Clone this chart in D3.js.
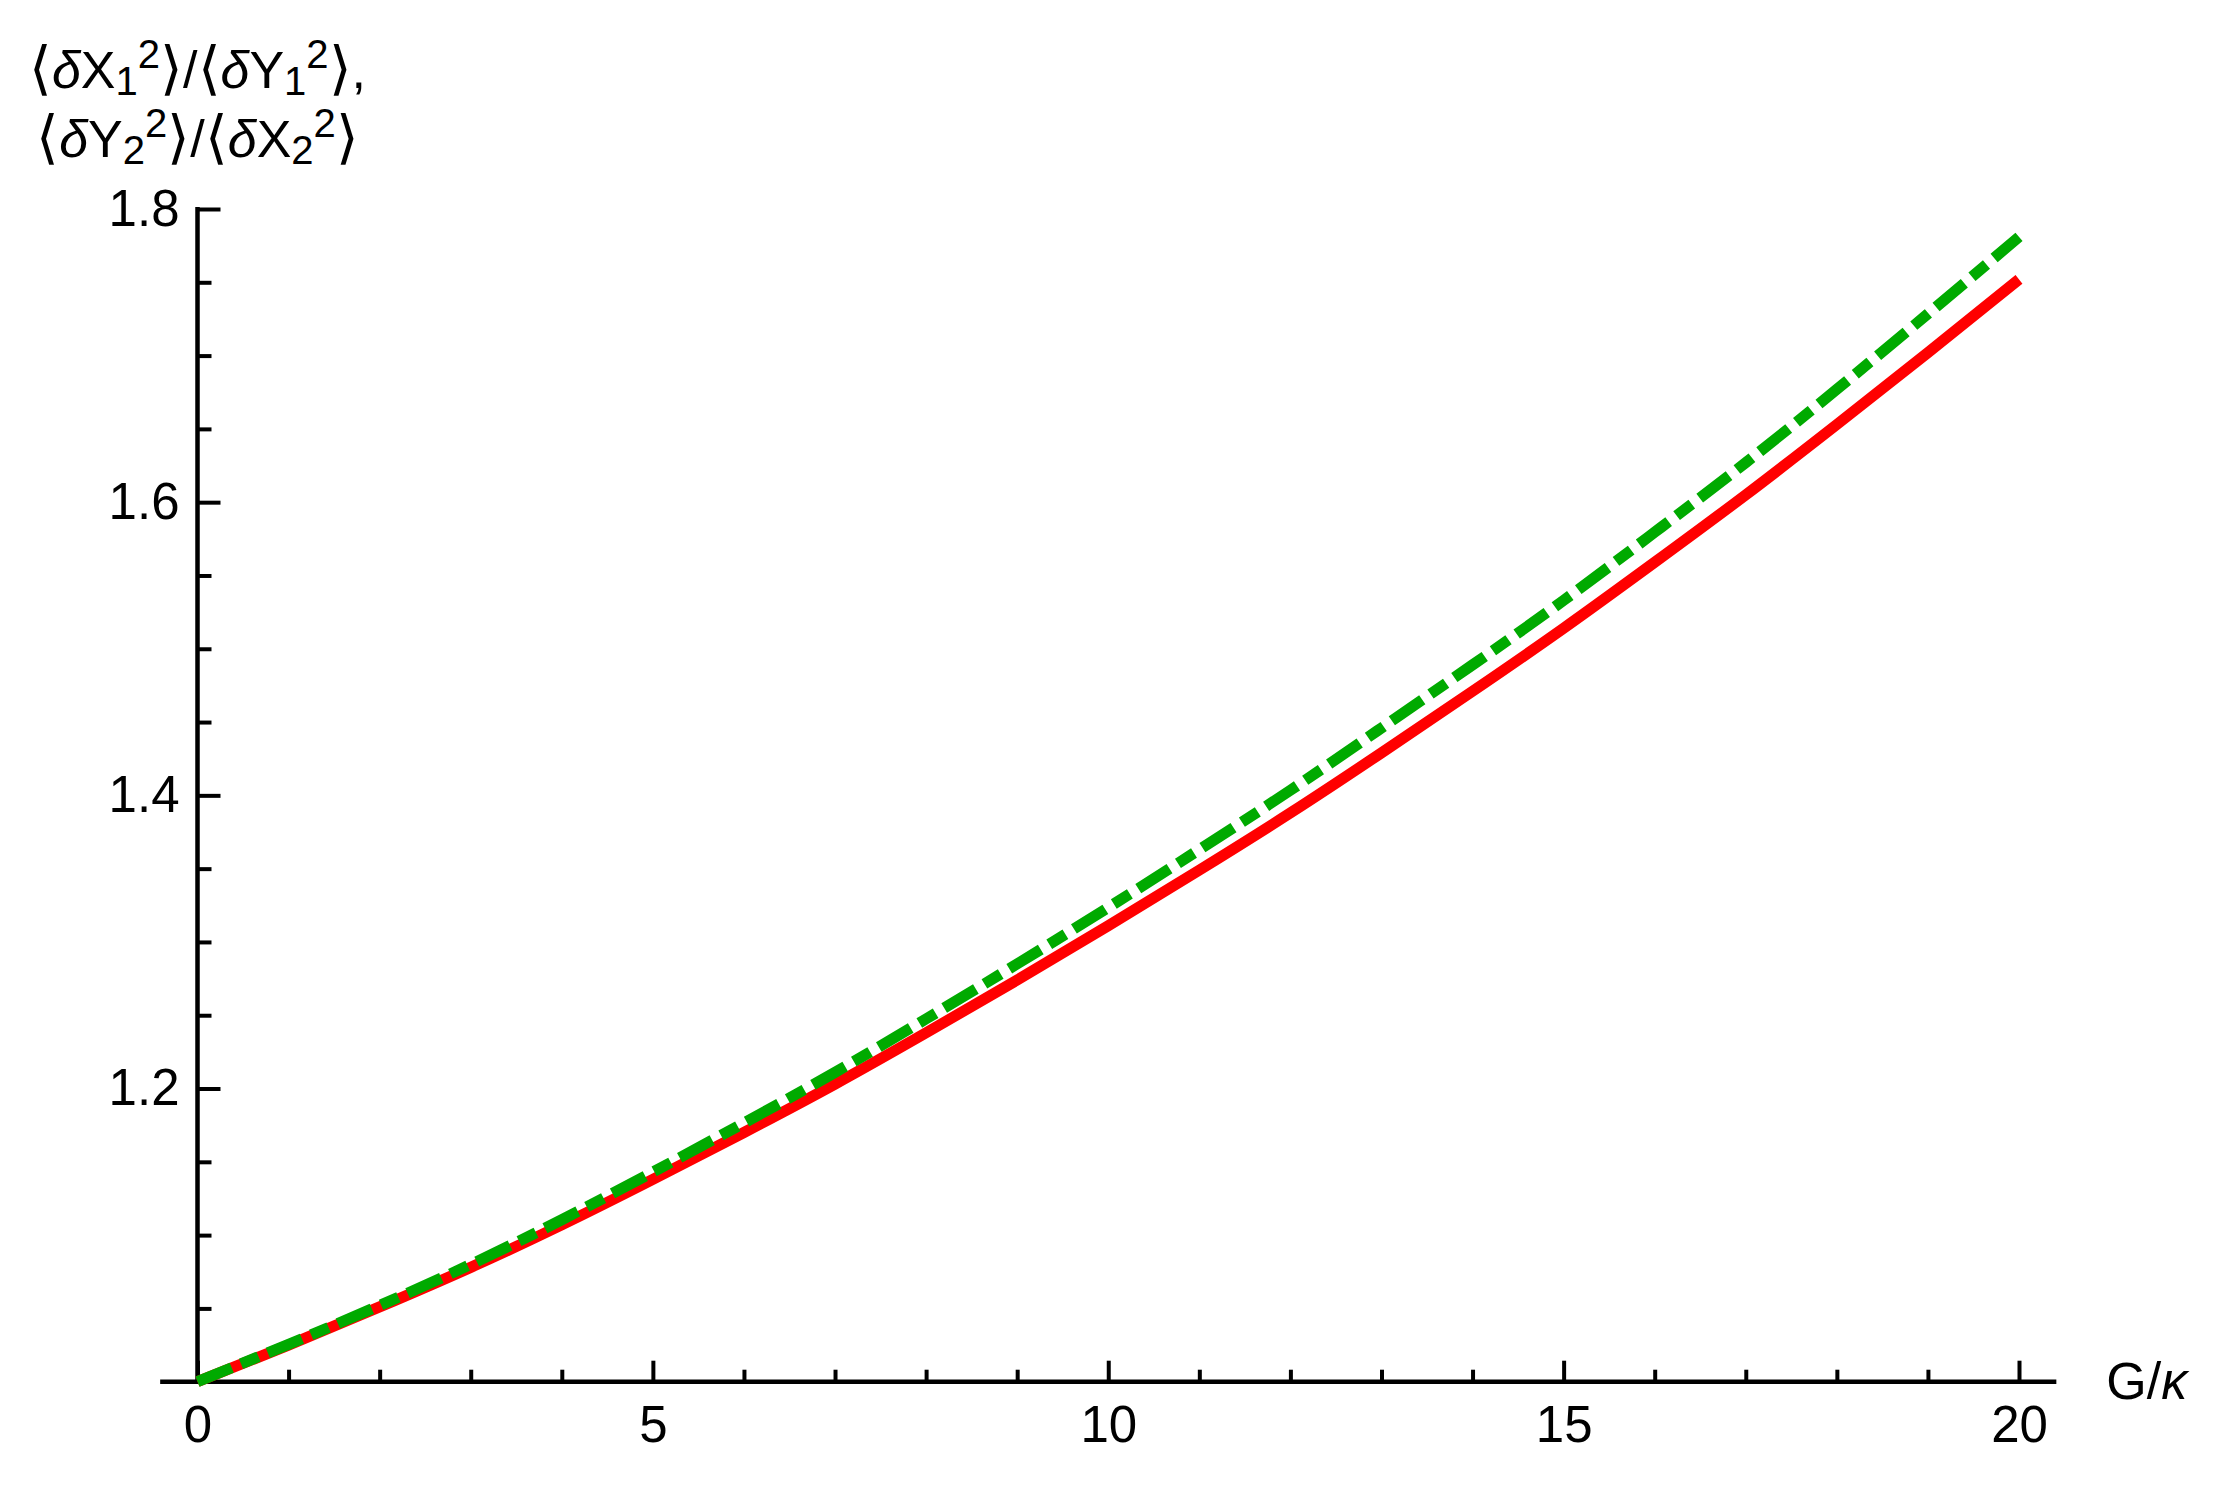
<!DOCTYPE html>
<html>
<head>
<meta charset="utf-8">
<script src="https://cdnjs.cloudflare.com/ajax/libs/d3/7.8.5/d3.min.js"></script>
<style>
  body { margin: 0; background: #fff; }
  text { font-family: "Liberation Sans", Arial, sans-serif; fill: #000; }
</style>
</head>
<body>
<div id="chart"></div>
<script>
// G/kappa values and the two variance ratios
var gk = [0, 1, 2, 3, 4, 5, 6, 7, 8, 9, 10, 11, 12, 13, 14, 15, 16, 17, 18, 19, 20];
var ratioRed = [1.000, 1.025, 1.051, 1.078, 1.107, 1.138, 1.170, 1.203, 1.238, 1.274, 1.311,
                1.349, 1.388, 1.429, 1.471, 1.514, 1.559, 1.605, 1.653, 1.702, 1.752];
var ratioGreen = [1.000, 1.0255, 1.052, 1.080, 1.1105, 1.143, 1.1765, 1.211, 1.2475, 1.285, 1.3235,
                  1.363, 1.4035, 1.446, 1.489, 1.533, 1.5795, 1.627, 1.677, 1.7285, 1.781];

// ticks
var xMajor = [0, 5, 10, 15, 20];
var xMinor = [1, 2, 3, 4, 6, 7, 8, 9, 11, 12, 13, 14, 16, 17, 18, 19];
var yMajor = [1.2, 1.4, 1.6, 1.8];
var yMinor = [1.05, 1.1, 1.15, 1.25, 1.3, 1.35, 1.45, 1.5, 1.55, 1.65, 1.7, 1.75];

// set the dimensions and margins of the graph
var margin = { top: 209, right: 214, bottom: 109.3, left: 197.5 },
    width = 2233 - margin.left - margin.right,
    height = 1491 - margin.top - margin.bottom;

var svg = d3.select("#chart")
    .append("svg")
    .attr("width", 2233)
    .attr("height", 1491)
    .append("g")
    .attr("transform", "translate(" + margin.left + "," + margin.top + ")");

var x = d3.scaleLinear().domain([0, 20]).range([0, width]);
var y = d3.scaleLinear().domain([1, 1.8]).range([height, 0]);

// axis lines (mathematica style, crossing at (0, 1))
svg.append("line")
    .attr("x1", x(-0.41)).attr("x2", x(20.41))
    .attr("y1", y(1)).attr("y2", y(1))
    .attr("stroke", "#000").attr("stroke-width", 4.5);
svg.append("line")
    .attr("x1", x(0)).attr("x2", x(0))
    .attr("y1", y(1)).attr("y2", y(1.8) - 2)
    .attr("stroke", "#000").attr("stroke-width", 4.5);

function styleAxis(g) {
    g.select(".domain").remove();
    g.selectAll(".tick line").attr("stroke", "#000").attr("stroke-width", 4);
    g.selectAll(".tick text").style("font-size", "51px").attr("fill", "#000");
}

// X ticks
svg.append("g")
    .attr("transform", "translate(0," + height + ")")
    .call(d3.axisBottom(x).tickValues(xMinor).tickFormat("").tickSizeInner(-12).tickSizeOuter(0))
    .call(styleAxis);
svg.append("g")
    .attr("transform", "translate(0," + height + ")")
    .call(d3.axisBottom(x).tickValues(xMajor).tickFormat(d3.format("d")).tickSizeInner(-21).tickSizeOuter(0).tickPadding(24))
    .call(styleAxis);

// Y ticks
svg.append("g")
    .call(d3.axisLeft(y).tickValues(yMinor).tickFormat("").tickSizeInner(-14).tickSizeOuter(0))
    .call(styleAxis);
svg.append("g")
    .call(d3.axisLeft(y).tickValues(yMajor).tickFormat(d3.format(".1f")).tickSizeInner(-23).tickSizeOuter(0).tickPadding(18))
    .call(styleAxis);

// curves
var line = function (vals) {
    return d3.line()
        .x(function (d, i) { return x(gk[i]); })
        .y(function (d) { return y(d); })
        .curve(d3.curveNatural)(vals);
};

svg.append("path")
    .attr("d", line(ratioRed))
    .attr("fill", "none")
    .attr("stroke", "#ff0000")
    .attr("stroke-width", 11);

svg.append("path")
    .attr("d", line(ratioGreen))
    .attr("fill", "none")
    .attr("stroke", "#00aa00")
    .attr("stroke-width", 11)
    .attr("stroke-dasharray", "37,10,19,10");

// labels
function addText(px, py, anchor, parts) {
    var t = svg.append("text")
        .attr("x", px).attr("y", py)
        .attr("text-anchor", anchor)
        .style("font-size", "52px");
    parts.forEach(function (p) {
        var s = t.append("tspan").text(p[0]);
        if (p[1]) s.style("font-style", "italic");
        if (p[2]) s.attr("dy", p[2]);
        if (p[3]) s.style("font-size", p[3] + "px");
    });
}

function ratioParts(a, i) {
    return [["\u27E8", false, 0, 58], ["\u03B4", true], [a], [i, false, 7, 40], ["2", false, -27, 40], ["\u27E9", false, 20, 58]];
}

addText(0, -120.7, "middle",
    ratioParts("X", "1").concat([["/"]], ratioParts("Y", "1"), [[","]]));
addText(0, -52.3, "middle",
    ratioParts("Y", "2").concat([["/"]], ratioParts("X", "2")));

addText(x(20.41) + 50, y(1) + 17, "start", [["G/"], ["\u03BA", true]]);
</script>
</body>
</html>
